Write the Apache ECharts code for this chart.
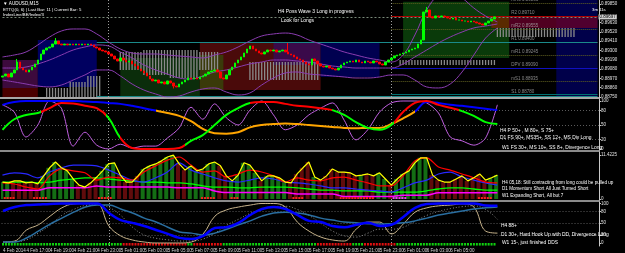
<!DOCTYPE html>
<html>
<head>
<meta charset="utf-8">
<script src="https://cdn.jsdelivr.net/npm/echarts@6.0.0/dist/echarts.min.js"></script>
<style>
html,body{margin:0;padding:0;background:#000;overflow:hidden}
#chart{width:625px;height:253px}
</style>
</head>
<body>
<div id="chart"></div>
<script>
// ================= DATA =================
const N = 203; // 15-minute slots shown
const xTickLabels = ["4 Feb 2014","4 Feb 17:00","4 Feb 19:00","4 Feb 21:00","4 Feb 23:00","5 Feb 01:00","5 Feb 03:00","5 Feb 05:00","5 Feb 07:00","5 Feb 09:00","5 Feb 11:00","5 Feb 13:00","5 Feb 15:00","5 Feb 17:00","5 Feb 19:00","5 Feb 21:00","5 Feb 23:00","6 Feb 01:00","6 Feb 03:00","6 Feb 05:00","6 Feb 07:00"];

// AUDUSD M15 closes
const closes = [
0.88998,0.89021,0.88986,0.89033,0.89069, 0.89163,0.89092,0.89069,0.89045,0.89069,
0.89104,0.89140,0.89187,0.89258,0.89305, 0.89329,0.89341,0.89376,0.89412,0.89376,
0.89365,0.89376,0.89365,0.89376,0.89365, 0.89376,0.89365,0.89376,0.89365,0.89376,
0.89365,0.89341,0.89329,0.89305,0.89294, 0.89282,0.89258,0.89234,0.89199,0.89175,
0.89211,0.89187,0.89163,0.89175,0.89140, 0.89116,0.89081,0.89057,0.89033,0.88998,
0.88962,0.88939,0.88950,0.88915,0.88927, 0.88903,0.88939,0.88915,0.88879,0.88868,
0.88903,0.88927,0.88950,0.88974,0.88962, 0.88974,0.88962,0.88986,0.88998,0.89021,
0.89045,0.89057,0.89069,0.89045,0.88974, 0.88962,0.89010,0.89069,0.89104,0.89152,
0.89187,0.89223,0.89270,0.89317,0.89353, 0.89317,0.89294,0.89270,0.89258,0.89282,
0.89305,0.89294,0.89305,0.89282,0.89294, 0.89305,0.89282,0.89258,0.89246,0.89223,
0.89199,0.89187,0.89163,0.89140,0.89128, 0.89199,0.89175,0.89140,0.89116,0.89104,
0.89116,0.89092,0.89081,0.89069,0.89092, 0.89128,0.89152,0.89163,0.89175,0.89163,
0.89187,0.89163,0.89152,0.89175,0.89163, 0.89152,0.89175,0.89163,0.89140,0.89128,
0.89163,0.89187,0.89211,0.89234,0.89246, 0.89258,0.89270,0.89282,0.89305,0.89317,
0.89329,0.89376,0.89424,0.89755,0.89779, 0.89696,0.89684,0.89708,0.89696,0.89708,
0.89696,0.89684,0.89672,0.89684,0.89660, 0.89660,0.89648,0.89648,0.89637,0.89648,
0.89637,0.89625,0.89613,0.89601,0.89625, 0.89648,0.89672,0.89697];
const firstOpen = 0.88985;
const wickSpikes = [[5,0.89199],[18,0.89447],[58,0.88850],[97,0.89388],[144,0.89814]];

// Bollinger-style bands, one value per hour (every 4 slots)
const bandUpper = [0.89223,0.89246,0.89282,0.89365,0.89459,0.89530,0.89554,0.89554,0.89495,0.89400,0.89317,0.89270,0.89258,0.89258,0.89246,0.89234,0.89223,0.89211,0.89246,0.89282,0.89341,0.89412,0.89471,0.89495,0.89506,0.89483,0.89424,0.89376,0.89329,0.89282,0.89246,0.89211,0.89187,0.89163,0.89246,0.89483,0.89779,0.89956,0.89992,0.89921,0.89802,0.89708,0.89637];
const bandMid = [0.89092,0.89092,0.89104,0.89140,0.89187,0.89246,0.89305,0.89341,0.89365,0.89353,0.89282,0.89211,0.89128,0.89069,0.89021,0.88974,0.88962,0.88998,0.89045,0.89069,0.89104,0.89140,0.89163,0.89187,0.89187,0.89175,0.89163,0.89140,0.89116,0.89104,0.89092,0.89092,0.89092,0.89092,0.89140,0.89223,0.89305,0.89388,0.89459,0.89518,0.89566,0.89589,0.89613];
const bandLower = [0.88950,0.88927,0.88903,0.88879,0.88868,0.88891,0.88950,0.89010,0.89069,0.89069,0.88998,0.88903,0.88832,0.88785,0.88749,0.88761,0.88808,0.88844,0.88856,0.88808,0.88773,0.88797,0.88891,0.88974,0.89033,0.89045,0.89021,0.89010,0.88998,0.88986,0.88974,0.88974,0.88986,0.89010,0.89010,0.88950,0.88868,0.88856,0.88903,0.89045,0.89246,0.89447,0.89566];

// shaded zones: [fromSlot, toSlot, priceTop, priceBottom, colour]
const zones = [
 [188,202,0.89897,0.88749,'#00004a'],
 [0,12,0.89187,0.88856,'#3d0a3d'],
 [0,12,0.88856,0.88749,'#4a0000'],
 [12,32,0.89424,0.88868,'#000060'],
 [40,67,0.89211,0.88749,'#0b2d0b'],
 [67,108,0.89388,0.88832,'#4a0a0a'],
 [67,75,0.89246,0.88832,'#3a3a0a'],
 [92,108,0.89388,0.89128,'#3a0a4a'],
 [108,128,0.89388,0.88986,'#000050'],
 [136,172,0.89875,0.89211,'#0a3a0a'],
 [166,202,0.89708,0.89566,'rgba(100,0,40,0.8)'],
 [166,172,0.89708,0.89566,'#5a2a00']
];
// grey profile histogram: [fromSlot, toSlot, low, high]
const profileSegments = [
 [15,22,0.88749,0.88856],[23,28,0.88749,0.88927],[29,33,0.88749,0.88998],
 [40,47,0.89069,0.89282],[48,56,0.89010,0.89305],[57,66,0.88974,0.89305],[67,73,0.89069,0.89282],
 [84,107,0.88950,0.89163],[135,167,0.89128,0.89187],[168,194,0.89459,0.89566]
];
const priceTicks = [0.89850,0.89630,0.89520,0.89410,0.89300,0.89190,0.89080,0.88970,0.88860,0.88750];
const pivotNames = ["mR3 0.89863","R2 0.89710","mR2 0.89555","R1 0.89400","mR1 0.89245","DPV 0.89090","mS1 0.88935","S1 0.88780"];
const pivotValues = [0.89863,0.89710,0.89555,0.89400,0.89245,0.89090,0.88935,0.88780];
const bidPrice = 0.89697;
const boxLevels = [0.89394, 0.88761];
const daySeparators = [36, 132];

// Panel 2 (0-100 oscillators), hourly values
const slowLine = [92,98,100,100,100,100,100,99,98,96,94,90,85,80,75,69,58,42,33,32,35,45,50,52,53,52,50,48,46,44,43,44,44,52,64,78,98,96,92,90,87,84,81];
const fastLine = [40,62,71,75,85,96,95,90,85,65,23,2,0,0,0,2,17,29,50,71,85,96,98,98,94,90,88,85,81,71,56,44,40,50,77,96,100,92,86,79,69,56,52];
const oscLine  = [92,77,25,50,100,85,6,35,8,0,10,2,6,6,23,44,87,62,94,65,50,81,100,71,40,50,71,85,96,60,19,40,77,96,100,100,96,75,25,17,8,23,92];
const slowRuns = [[0,'#0000ff'],[52,'#ffa500'],[140,'#0000ff']];
const fastRuns = [[0,'#00ff00'],[13,'#ff0000'],[35,'#00ff00'],[40,'#ff0000'],[62,'#00ff00'],[84,'#ff0000'],[112,'#00ff00'],[133,'#ff0000'],[155,'#00ff00']];
const levels = [20,50,80];

// Panel 3 histogram (every 2 slots) and lines (hourly)
const hist = [4.4,4.2,4.7,4.7,4.2,4.4,3.9,6.0,8.1,9.6, 8.1,7.3,5.2,3.6,3.1,4.2,5.7,7.3,9.1,9.4, 6.2,4.4,4.4,6.0,7.8,8.6,9.1,9.9,10.9,11.4, 9.1,7.5,8.6,7.3,7.8,9.1,9.6,8.6,6.0,4.7, 6.2,9.4,8.8,6.8,4.7,6.0,6.0,5.5,4.4,4.2, 6.5,8.1,9.6,5.7,4.9,6.0,7.8,7.0,7.0,6.8, 6.0,6.2,6.5,6.0,6.8,5.2,3.6,5.2,6.5,7.3, 9.4,10.7,10.7,6.2,4.9,4.4,4.4,5.2,6.0,4.7, 5.5,6.5,4.9,5.5,6.2];
const histRuns = [[0,'g'],[4,'r'],[13,'g'],[25,'r'],[33,'g'],[39,'r'],[47,'g'],[60,'r'],[64,'g'],[74,'r'],[78,'g'],[87,'r'],[90,'g'],[98,'r'],[106,'g'],[107,'r'],[121,'g'],[123,'r'],[127,'g'],[131,'r'],[133,'g'],[145,'r'],[166,'g']];
const p3Red = [4.2,3.9,3.1,2.6,6.0,7.8,7.3,6.8,4.9,5.7, 5.5,4.9,7.0,8.6,10.1,10.9,8.8,7.0,7.3,5.7, 6.5,7.5,7.0,6.0,4.4,5.5,4.9,4.7,5.5,5.7, 4.9,4.2,3.4,3.4,6.0,9.9,10.7,8.3,7.5,6.5, 5.5,4.4,4.2];
const p3Blue = [6.2,6.8,6.5,5.5,7.0,8.1,8.8,8.8,8.6,7.5, 6.2,4.9,4.4,5.5,7.0,9.4,7.5,6.5,5.5,4.7, 4.4,4.9,5.5,5.2,4.4,4.2,3.9,3.4,2.9,2.9, 2.6,2.3,2.1,1.8,2.9,4.2,4.9,6.5,7.0,5.7, 4.9,4.2,3.6];
const p3Green = [4.4,4.4,4.4,4.2,4.4,4.9,5.2,5.5,5.5,5.2, 4.9,4.7,4.4,4.4,4.2,4.2,3.9,3.4,3.1,3.1, 2.9,2.9,3.1,3.1,3.1,2.9,2.6,2.3,2.3,2.1, 2.1,2.1,1.8,1.8,1.8,1.8,2.1,2.6,2.9,2.9, 2.6,2.3,2.3];
const p3Magenta = [2.3,2.3,2.3,2.3,2.9,2.9,2.9,2.9,3.4,3.1, 3.1,3.1,3.1,3.1,3.1,2.9,2.9,2.9,2.1,1.7, 1.7,1.7,1.7,1.7,1.7,1.3,1.3,1.3,1.3,0.65, 0.65,0.65,0.65,0.65,1.0,1.0,1.0,1.6,1.6,1.6, 1.6,1.6,1.6];
const signalRuns = [[0,3,'#ff2020'],[10,14,'#ff2020'],[32,36,'#ff2020'],[67,71,'#ff2020'],[77,79,'#ff2020'],[98,101,'#ff2020'],[114,125,'#ff2020'],[132,136,'#ff30ff'],[161,165,'#ff2020']];

// Panel 4 (0-100) hourly values
const p4Blue  = [81,91,96,97.5,99,100,100,100,100,76, 58,51,43,33,23,13,10,18,38,40, 51,71,86,91,86,71,56,53,43,40, 46,51,43,46,66,89,99,100,100,100, 100,95,94];
const p4Steel = [2.5,2.5,12.7,30,48,63,78,91,96,96, 86,76,63,53,40,28,25,20,25,35, 46,56,68,76,78,76,71,63,58,53, 51,49,48,49,51,56,63,71,76,81, 86,89,91];
const p4Tan   = [2.5,5,33,46,68,89,99,100,99,43, 18,7.6,2.5,0,0,0,2.5,23,68,84, 91,96,100,100,91,53,30,15,7.6,5, 35,53,53,23,48,78,89,94,96,99, 91,30,25];
const p4Dot   = [2,3,8,25,45,70,85,95,97,90, 70,40,20,12,8,5,5,10,25,45, 60,75,85,92,93,85,70,50,30,18, 15,25,35,35,40,55,70,80,87,92, 94,85,60];
const stripRuns = [[0,'g'],[41,'r'],[63,'g'],[65,'r'],[75,'g'],[107,'r'],[119,'g'],[123,'r'],[134,'g']];
const stripEnd = 167;

const annotations = [
 [3,1.5,'\u25BC AUDUSD,M15',4.6],
 [3,7.5,'ETTQ(0, 6) | Last Bar: 11 | Current Bar: 5',4.3],
 [3,13,'IndexLine/BE/Index/3',4.3],
 [278,9,'H4 Poss Wave 3 Long in progress',5],
 [281,18,'Look for Longs',5],
 [592,8,'3m 11s',4.3],
 [500,128,'H4 P 50+ , M 80+, S 75+',4.9],
 [500,135.5,'D1 FS 90+, MS35+, SS 12+, MS Div Long',4.9],
 [502,145,'W1 FS 30+, MS 10+, SS 8+, Divergence Long',4.9],
 [502,180,'H4 05,18: Still contracting from long could be pulled up',4.6],
 [502,186.5,'D1 Momentum Short All Just Turned Short',4.6],
 [502,193,'W1 Expanding Short, All but 7',4.6],
 [501,223,'H4 88+',4.9],
 [501,232,'D1 30+, Hard Hook Up with DD, Divergence Long',4.9],
 [502,240.5,'W1 15-, just finished DDS',4.9]
];

// ================= BUILD =================
const FONT = '"Liberation Sans","DejaVu Sans",sans-serif';
const cats = Array.from({length:N}, (_, i) => String(i));
const hourly = a => a.map((v, k) => [k * 4, v]);
const runAt = (runs, i) => { let c = null; for (const r of runs) if (i >= r[0]) c = r[1]; return c; };
const toPieces = runs => runs.map((r, k) => ({gte: r[0], lt: k < runs.length - 1 ? runs[k + 1][0] : 9999, color: r[1]}));

const candles = closes.map((c, i) => {
  const o = i === 0 ? firstOpen : closes[i - 1];
  return [o, c, Math.min(o, c), Math.max(o, c)];
});
wickSpikes.forEach(([i, p]) => { const k = candles[i]; if (p > k[3]) k[3] = p; if (p < k[2]) k[2] = p; });

const profBase = new Array(N).fill(null), profVal = new Array(N).fill(null);
profileSegments.forEach(([a, b, lo, hi]) => { for (let i = a; i <= b; i++) { profBase[i] = lo; profVal[i] = +(hi - lo).toFixed(5); } });

const histData = hist.map((v, j) => ({value: [2 * j, v], itemStyle: {color: runAt(histRuns, 2 * j) === 'g' ? '#146e14' : '#600c0c'}}));
const sigData = [];
signalRuns.forEach(([a, b, col]) => { for (let i = a; i <= b; i++) sigData.push({value: [i, 0.5], itemStyle: {color: col}}); });
const stripData = [];
for (let i = 0; i <= stripEnd; i++) stripData.push({value: [i, -6.5], itemStyle: {color: runAt(stripRuns, i) === 'g' ? '#10d010' : '#e01010'}});

const grids = [
  {left: 1, right: 26, top: 0, height: 97},
  {left: 1, right: 26, top: 99, height: 51},
  {left: 1, right: 26, top: 152, height: 48},
  {left: 1, right: 26, top: 202, height: 44}
];
const xAxes = grids.map((g, gi) => ({
  type: 'category', gridIndex: gi, data: cats, boundaryGap: true,
  axisLine: {show: false}, axisTick: {show: false}, splitLine: {show: false},
  axisLabel: gi === 3 ? {
    show: true, interval: (i) => i % 8 === 0 && i / 8 < xTickLabels.length,
    formatter: (v, i) => xTickLabels[i / 8] || '', fontSize: 4.5, color: '#d8d8d8',
    margin: 2, align: 'left', fontFamily: FONT, hideOverlap: false
  } : {show: false}
}));
function yAx(gi, min, max, ticks, fmt) {
  return {
    type: 'value', gridIndex: gi, position: 'right', min, max, scale: true,
    splitLine: {show: false},
    axisLine: {show: true, lineStyle: {color: '#c8c8c8', width: 1}},
    axisTick: {show: true, length: 2, customValues: ticks, lineStyle: {color: '#c8c8c8'}},
    axisLabel: {show: true, customValues: ticks, fontSize: 4.5, color: '#e0e0e0', margin: 2, fontFamily: FONT, formatter: fmt}
  };
}
const yAxes = [
  yAx(0, 0.88749, 0.89897, priceTicks, v => v.toFixed(5)),
  yAx(1, -2.08, 104.17, [0, 20, 50, 80, 100], v => String(v)),
  yAx(2, -0.26, 12.2, [0, 11.4225], v => v === 0 ? '0' : '11.4225'),
  yAx(3, -7.6, 103.8, [0, 20, 50, 80, 100], v => String(v))
];

const dayLines = {
  silent: true, symbol: ['none', 'none'], label: {show: false}, z: 3,
  lineStyle: {color: '#a0a0a0', type: [1, 2], width: 1},
  data: daySeparators.map(i => ({xAxis: i}))
};
const levelLines = {
  silent: true, symbol: ['none', 'none'], label: {show: false}, z: 1,
  lineStyle: {color: '#5a5a5a', type: [1, 2], width: 1},
  data: levels.map(v => ({yAxis: v}))
};

const S = [];
const add = s => { S.push(Object.assign({animation: false, silent: true}, s)); return S.length - 1; };

// ---- panel 1 ----
const pivotStyles = ['#606020', '#b00000', '#606020', '#900000', '#606020', '#1010c0', '#606020', '#007070'];
const pivotDash = ['dotted', 'solid', 'dotted', 'solid', 'dotted', 'solid', 'dotted', 'solid'];
add({
  type: 'line', xAxisIndex: 0, yAxisIndex: 0, data: [], z: 1,
  markArea: {silent: true, data: zones.map(z => [{xAxis: z[0], yAxis: z[2], itemStyle: {color: z[4]}}, {xAxis: z[1], yAxis: z[3]}])},
  markLine: {
    silent: true, symbol: ['none', 'none'], z: 3, label: {show: false},
    data: [
      ...pivotValues.map((v, k) => [{xAxis: daySeparators[1], yAxis: v, lineStyle: {color: pivotStyles[k], type: pivotDash[k], width: 1}}, {xAxis: N - 1, yAxis: v}]),
      ...boxLevels.map(v => [{xAxis: 32, yAxis: v, lineStyle: {color: '#1a8a8a', type: 'solid', width: 1}}, {xAxis: N - 1, yAxis: v}]),
      [{xAxis: 0, yAxis: bidPrice, lineStyle: {color: '#7a8a7a', type: [2, 2], width: 1},
        label: {show: true, position: 'end', formatter: bidPrice.toFixed(5), fontSize: 4.5, color: '#000', backgroundColor: '#d0d0d0', padding: [0, 1], distance: 1, fontFamily: FONT}},
       {xAxis: N - 1, yAxis: bidPrice}],
      ...daySeparators.map(i => [{xAxis: i, yAxis: 0.89897, lineStyle: {color: '#a0a0a0', type: [1, 2], width: 1}}, {xAxis: i, yAxis: 0.88749}])
    ]
  }
});
add({type: 'bar', xAxisIndex: 0, yAxisIndex: 0, stack: 'prof', data: profBase, barWidth: 1.3, itemStyle: {color: 'rgba(0,0,0,0)'}, z: 2});
add({type: 'bar', xAxisIndex: 0, yAxisIndex: 0, stack: 'prof', data: profVal, barWidth: 1.3, itemStyle: {color: '#8a8a8a'}, z: 2});
[bandUpper, bandMid, bandLower].forEach(b => add({
  type: 'line', xAxisIndex: 0, yAxisIndex: 0, data: hourly(b), smooth: 0.4, symbol: 'none', z: 3,
  lineStyle: {color: '#8a3cb0', width: 1}
}));
add({
  type: 'candlestick', xAxisIndex: 0, yAxisIndex: 0, data: candles, barWidth: 2, z: 4,
  itemStyle: {color: '#00ff00', color0: '#ff0000', borderColor: '#00ff00', borderColor0: '#ff0000', borderWidth: 1}
});
add({
  type: 'scatter', xAxisIndex: 0, yAxisIndex: 0, symbolSize: 0.1, z: 5,
  itemStyle: {color: 'rgba(0,0,0,0)'},
  data: pivotValues.map((v, k) => ({value: [172, v], name: pivotNames[k]})),
  label: {show: true, formatter: '{b}', position: 'right', offset: [-3, -3], fontSize: 4.5, color: '#a8a8a8', fontFamily: FONT}
});

// ---- panel 2 ----
add({type: 'line', xAxisIndex: 1, yAxisIndex: 1, data: [], markLine: levelLines, z: 1});
add({type: 'line', xAxisIndex: 1, yAxisIndex: 1, data: [], markLine: dayLines, z: 1});
add({type: 'line', xAxisIndex: 1, yAxisIndex: 1, data: hourly(oscLine), smooth: 0.3, symbol: 'none', lineStyle: {color: '#c060e0', width: 1}, z: 2});
const iSlow = add({type: 'line', xAxisIndex: 1, yAxisIndex: 1, data: hourly(slowLine), smooth: 0.4, symbol: 'none', lineStyle: {width: 2}, z: 3});
const iFast = add({type: 'line', xAxisIndex: 1, yAxisIndex: 1, data: hourly(fastLine), smooth: 0.4, symbol: 'none', lineStyle: {width: 2}, z: 4});

// ---- panel 3 ----
add({type: 'line', xAxisIndex: 2, yAxisIndex: 2, data: [], markLine: dayLines, z: 1});
add({type: 'bar', xAxisIndex: 2, yAxisIndex: 2, data: histData, barWidth: 4, z: 2});
add({type: 'line', xAxisIndex: 2, yAxisIndex: 2, data: hourly(p3Magenta), smooth: 0.3, symbol: 'none', lineStyle: {color: '#ff00ff', width: 1.5}, z: 3});
add({type: 'line', xAxisIndex: 2, yAxisIndex: 2, data: hourly(p3Green), smooth: 0.3, symbol: 'none', lineStyle: {color: '#00ff00', width: 1.3}, z: 3});
add({type: 'line', xAxisIndex: 2, yAxisIndex: 2, data: hourly(p3Blue), smooth: 0.3, symbol: 'none', lineStyle: {color: '#2828ff', width: 1.2}, z: 3});
add({type: 'line', xAxisIndex: 2, yAxisIndex: 2, data: hourly(p3Red), smooth: 0.3, symbol: 'none', lineStyle: {color: '#ff0000', width: 1.2}, z: 3});
add({type: 'line', xAxisIndex: 2, yAxisIndex: 2, data: hist.map((v, j) => [2 * j, v]), symbol: 'none', lineStyle: {color: '#ffff00', width: 1.2}, z: 4});
add({type: 'bar', xAxisIndex: 2, yAxisIndex: 2, data: sigData, barWidth: 2, z: 5});

// ---- panel 4 ----
add({type: 'line', xAxisIndex: 3, yAxisIndex: 3, data: [], markLine: levelLines, z: 1});
add({type: 'line', xAxisIndex: 3, yAxisIndex: 3, data: [], markLine: dayLines, z: 1});
add({type: 'bar', xAxisIndex: 3, yAxisIndex: 3, data: stripData, barWidth: 2, z: 2});
add({type: 'line', xAxisIndex: 3, yAxisIndex: 3, data: hourly(p4Dot), smooth: 0.4, symbol: 'none', lineStyle: {color: '#8c8c8c', width: 1, type: [1, 2]}, z: 3});
add({type: 'line', xAxisIndex: 3, yAxisIndex: 3, data: hourly(p4Tan), smooth: 0.4, symbol: 'none', lineStyle: {color: '#c8b48c', width: 1}, z: 3});
add({type: 'line', xAxisIndex: 3, yAxisIndex: 3, data: hourly(p4Steel), smooth: 0.4, symbol: 'none', lineStyle: {color: '#2a6ea0', width: 1.5}, z: 4});
add({type: 'line', xAxisIndex: 3, yAxisIndex: 3, data: hourly(p4Blue), smooth: 0.4, symbol: 'none', lineStyle: {color: '#0000ff', width: 2.5}, z: 5});

const graphics = [
  {type: 'rect', shape: {x: 0, y: 97, width: 600, height: 2}, style: {fill: '#a8a8a8'}, silent: true},
  {type: 'rect', shape: {x: 0, y: 150, width: 600, height: 2}, style: {fill: '#8a8a8a'}, silent: true},
  {type: 'rect', shape: {x: 0, y: 200, width: 600, height: 2}, style: {fill: '#8a8a8a'}, silent: true},
  ...annotations.map(([x, y, t, fs]) => ({type: 'text', x, y, silent: true, z: 100,
    style: {text: t, fill: '#ffffff', fontSize: fs, fontFamily: FONT, textVerticalAlign: 'top'}}))
];

const chart = echarts.init(document.getElementById('chart'), null, {renderer: 'canvas'});
chart.setOption({
  backgroundColor: '#000000',
  animation: false,
  textStyle: {fontFamily: FONT},
  grid: grids,
  xAxis: xAxes,
  yAxis: yAxes,
  visualMap: [
    {type: 'piecewise', show: false, seriesIndex: iSlow, dimension: 0, pieces: toPieces(slowRuns)},
    {type: 'piecewise', show: false, seriesIndex: iFast, dimension: 0, pieces: toPieces(fastRuns)}
  ],
  series: S,
  graphic: {elements: graphics}
});
</script>
</body>
</html>
